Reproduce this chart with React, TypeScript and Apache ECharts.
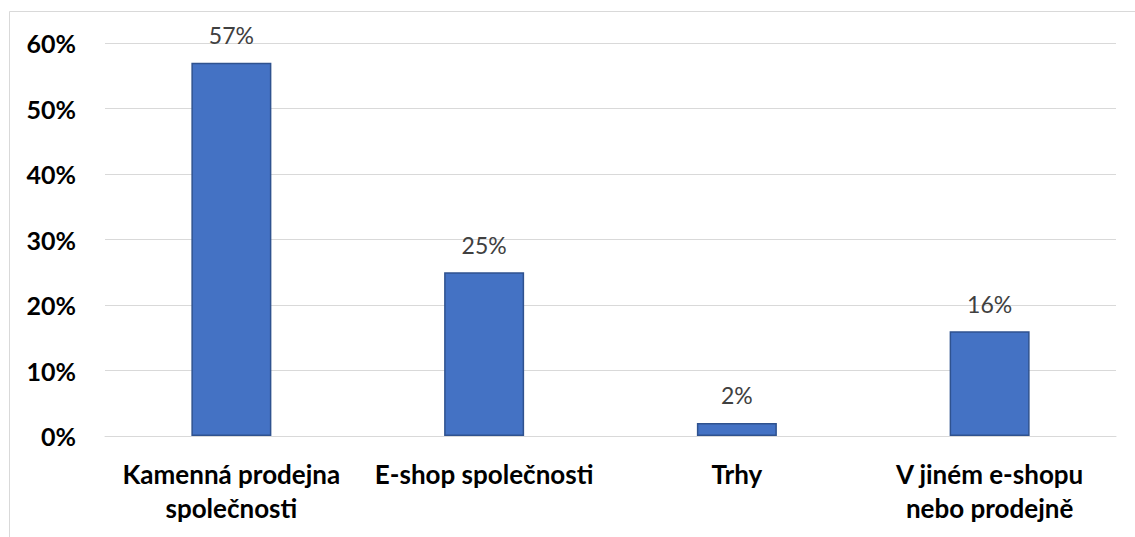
import React, { useEffect, useRef } from "react";
import * as echarts from "echarts";

const categories = [
  "Kamenná prodejna\nspolečnosti",
  "E-shop společnosti",
  "Trhy",
  "V jiném e-shopu\nnebo prodejně",
];
const shares = [57, 25, 2, 16];
const yTicks = { min: 0, max: 60, interval: 10 };

export default function App() {
  const ref = useRef<HTMLDivElement>(null);

  useEffect(() => {
    if (!ref.current) return;
    const chart = echarts.init(ref.current, undefined, { renderer: "svg" });
    chart.setOption({
      animation: false,
      backgroundColor: "#ffffff",
      graphic: [
        {
          type: "polyline",
          shape: { points: [[9.5, 537], [9.5, 11.5], [1135, 11.5]] },
          style: { stroke: "#d9d9d9", lineWidth: 1, fill: "none" },
          silent: true,
        },
      ],
      grid: { left: 105, right: 19, top: 43, bottom: 101, containLabel: false },
      xAxis: {
        type: "category",
        data: categories,
        axisLine: { show: true, lineStyle: { color: "#d9d9d9", width: 1 } },
        axisTick: { show: false },
        axisLabel: {
          color: "#000000",
          fontFamily: "Lato",
          fontWeight: "bold",
          fontSize: 26,
          lineHeight: 34,
          margin: 21,
          interval: 0,
        },
      },
      yAxis: {
        type: "value",
        min: yTicks.min,
        max: yTicks.max,
        interval: yTicks.interval,
        axisLine: { show: false },
        axisTick: { show: false },
        splitLine: { lineStyle: { color: "#d9d9d9", width: 1 } },
        axisLabel: {
          color: "#000000",
          fontFamily: "Lato",
          fontWeight: "bold",
          fontSize: 25,
          margin: 29,
          formatter: (v: number) => `${v}%`,
        },
      },
      series: [
        {
          type: "bar",
          data: shares,
          barWidth: 80,
          itemStyle: { color: "#4472c4", borderColor: "#2f528f", borderWidth: 1.5 },
          label: {
            show: true,
            position: "top",
            distance: 16,
            color: "#404040",
            fontFamily: "Lato",
            fontSize: 23,
            formatter: (p: any) => `${p.value}%`,
          },
        },
      ],
    });
    return () => chart.dispose();
  }, []);

  return (
    <div
      ref={ref}
      style={{ position: "absolute", left: 0, top: 0, width: 1135, height: 537 }}
    />
  );
}
